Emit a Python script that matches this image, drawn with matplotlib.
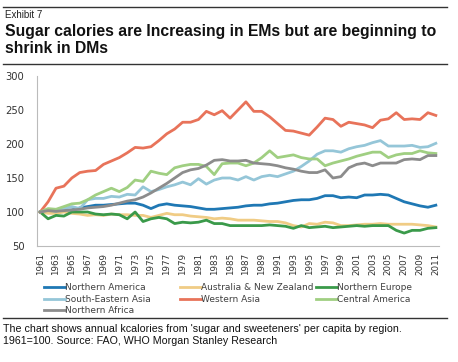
import matplotlib
matplotlib.use("Agg")
import matplotlib.pyplot as plt
from matplotlib.lines import Line2D
import numpy as np

years = list(range(1961, 2012))

northern_america = [100, 102, 100, 102, 103, 106, 108, 110, 110, 111, 112, 113, 113, 110, 105, 110, 112, 110, 109, 108,
                    106, 104, 104, 105, 106, 107, 109, 110, 110, 112, 113, 115, 117, 118, 118, 120, 124, 124, 121, 122,
                    121, 125, 125, 126, 125, 120, 115, 112, 109, 107, 110]
australia_nz = [100, 98, 98, 100, 98, 97, 95, 96, 95, 97, 96, 96, 95, 95, 92, 95, 98, 96, 96, 94,
                93, 92, 90, 91, 90, 88, 88, 88, 87, 86, 86, 84, 80, 78, 83, 82, 85, 84, 80, 80,
                81, 82, 82, 83, 82, 82, 82, 82, 81, 80, 78]
northern_europe = [100, 90, 95, 94, 100, 100, 100, 97, 96, 97, 96, 90, 100, 86, 90, 92, 90, 83, 85, 84,
                   85, 88, 83, 83, 80, 80, 80, 80, 80, 81, 80, 79, 76, 80, 77, 78, 79, 77, 78, 79,
                   80, 79, 80, 80, 80, 73, 69, 73, 73, 76, 77]
se_asia = [100, 103, 101, 105, 108, 105, 118, 120, 120, 123, 122, 126, 125, 137, 130, 133, 137, 140, 144, 140,
           149, 141, 147, 150, 150, 147, 152, 147, 152, 154, 152, 156, 160, 167, 175, 185, 190, 190, 188, 193,
           196, 198, 202, 205, 197, 197, 197, 198, 195, 196, 201]
western_asia = [100, 115, 135, 138, 150, 158, 160, 161, 170, 175, 180, 187, 195, 194, 196, 205, 215, 222, 232, 232,
                236, 248, 243, 249, 238, 250, 262, 248, 248, 240, 230, 220, 219, 216, 213, 225, 238, 236, 226, 232,
                230, 228, 224, 235, 237, 246, 236, 237, 236, 246, 242]
central_america = [100, 105, 104, 108, 112, 113, 118, 125, 130, 135, 130, 136, 147, 145, 160, 157, 155, 165, 168, 170,
                   170, 167, 155, 171, 172, 172, 168, 172, 180, 190, 180, 182, 184, 180, 178, 178, 168, 172, 175, 178,
                   182, 185, 188, 188, 180, 184, 186, 186, 190, 187, 186]
northern_africa = [100, 102, 101, 102, 103, 104, 106, 107, 108, 110, 113, 116, 118, 122, 128, 135, 142, 150, 158, 162,
                   164, 169, 176, 177, 175, 175, 176, 172, 171, 170, 168, 165, 163, 160, 158, 158, 162, 150, 152, 165,
                   170, 172, 168, 172, 172, 172, 177, 178, 177, 183, 183]

series_names = ["Northern America", "Australia & New Zealand", "Northern Europe",
                "South-Eastern Asia", "Western Asia", "Central America", "Northern Africa"]
series_values = [northern_america, australia_nz, northern_europe, se_asia, western_asia,
                 central_america, northern_africa]
colors = ["#1F78B4", "#F0CC85", "#3A9A4A", "#95C6D8", "#E8735A", "#A0CF82", "#8C8C8C"]

yticks = [50, 100, 150, 200, 250, 300]
xticks = list(range(1961, 2012, 2))

W, H = 458, 362
fig = plt.figure(figsize=(W / 100, H / 100), dpi=100)
fig.patch.set_facecolor("white")

def fx(px):
    return px / W

def fy(py):
    return 1 - py / H

# header / footer rules
for y in [7, 64, 318]:
    fig.add_artist(Line2D([fx(3), fx(447)], [fy(y), fy(y)], color="#333333", lw=1.0))

fig.text(fx(5), fy(15), "Exhibit 7", fontsize=7, family="Liberation Sans", va="center", color="#222222")
fig.text(fx(5), fy(40), "Sugar calories are Increasing in EMs but are beginning to\nshrink in DMs",
         fontsize=11.3, fontweight="bold", family="Liberation Sans", va="center", color="#111111",
         linespacing=1.15)
fig.text(fx(3), fy(335), "The chart shows annual kcalories from 'sugar and sweeteners' per capita by region.\n"
         "1961=100. Source: FAO, WHO Morgan Stanley Research",
         fontsize=7.7, family="Liberation Sans", va="center", color="#111111", linespacing=1.15)

ax = fig.add_axes([fx(37), fy(246), fx(439) - fx(37), fy(76) - fy(246)])
lines = []
for name, vals, c in zip(series_names, series_values, colors):
    ln, = ax.plot(years, vals, color=c, lw=2.0, label=name, solid_joinstyle="round")
    lines.append(ln)

ax.set_ylim(50, 300)
ax.set_xlim(1960.6, 2011.4)
ax.set_yticks(yticks)
ax.set_xticks(xticks)
ax.set_xticklabels([str(x) for x in xticks], rotation=90)
ax.tick_params(axis="y", length=0, labelsize=7.2, colors="#333333", pad=9)
ax.tick_params(axis="x", length=0, labelsize=6.3, colors="#333333", pad=5)
for s in ["top", "right"]:
    ax.spines[s].set_visible(False)
for s in ["left", "bottom"]:
    ax.spines[s].set_color("#BBBBBB")
    ax.spines[s].set_linewidth(0.8)

# legend: three columns laid out row-wise as in the reference
col_x = [44, 180, 316]
for ci, cx in enumerate(col_x):
    idx = [i for i in range(len(lines)) if i % 3 == ci]
    leg = fig.legend([lines[i] for i in idx], [series_names[i] for i in idx],
                     loc="upper left", bbox_to_anchor=(fx(cx), fy(283)), frameon=False,
                     fontsize=6.5, handlelength=2.3, handletextpad=0.05,
                     labelspacing=0.3, borderaxespad=0, borderpad=0)
    for t in leg.get_texts():
        t.set_color("#404040")

fig.savefig("out.png", dpi=100, facecolor="white")
